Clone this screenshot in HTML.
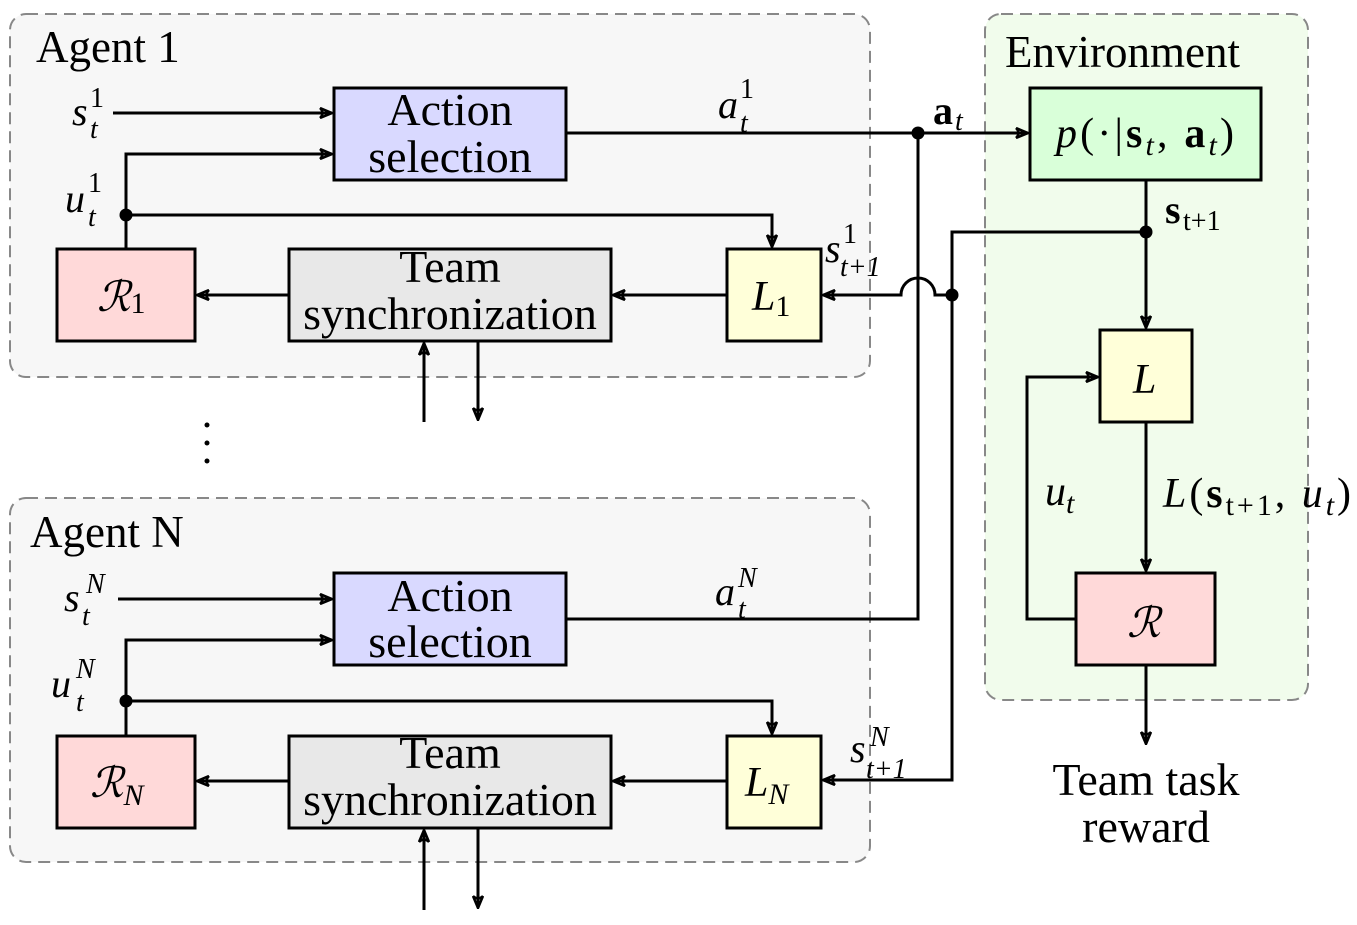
<!DOCTYPE html>
<html><head><meta charset="utf-8"><style>
body{margin:0;background:#fff}
svg text{font-family:"Liberation Serif",serif;fill:#000}
.i{font-style:italic}
</style></head><body>
<svg width="1357" height="920" viewBox="0 0 1357 920" xmlns="http://www.w3.org/2000/svg">
<defs><marker id="a" markerWidth="14" markerHeight="12" refX="13" refY="6" orient="auto" markerUnits="userSpaceOnUse"><path d="M1,1 Q6,6 1,11 M1,1 L13,6 L1,11" fill="none" stroke="#000" stroke-width="2.5"/></marker></defs>
<g stroke="#888" stroke-width="2" stroke-dasharray="12,7">
<rect x="10" y="14" width="860" height="363" rx="16" fill="#f7f7f7"/>
<rect x="10" y="498" width="860" height="364" rx="16" fill="#f7f7f7"/>
<rect x="985" y="14" width="323" height="686" rx="16" fill="#f1fcec"/>
</g>
<g stroke="#000" stroke-width="3">
<rect x="334" y="88" width="232" height="92" fill="#d9d9ff"/>
<rect x="57" y="249" width="138" height="92" fill="#ffd9d9"/>
<rect x="289" y="249" width="322" height="92" fill="#e8e8e8"/>
<rect x="727" y="249" width="94" height="92" fill="#ffffd9"/>
<rect x="334" y="573" width="232" height="92" fill="#d9d9ff"/>
<rect x="57" y="736" width="138" height="92" fill="#ffd9d9"/>
<rect x="289" y="736" width="322" height="92" fill="#e8e8e8"/>
<rect x="727" y="736" width="94" height="92" fill="#ffffd9"/>
<rect x="1030" y="88" width="231" height="92" fill="#d9ffd9"/>
<rect x="1100" y="330" width="92" height="92" fill="#ffffd9"/>
<rect x="1076" y="573" width="139" height="92" fill="#ffd9d9"/>
</g>
<g stroke="#000" stroke-width="3" fill="none">
<path d="M113,113H332" marker-end="url(#a)"/>
<path d="M126,249V154H332" marker-end="url(#a)"/>
<path d="M126,215H772V247" marker-end="url(#a)"/>
<path d="M289,295H197" marker-end="url(#a)"/>
<path d="M727,295H613" marker-end="url(#a)"/>
<path d="M424,422V343" marker-end="url(#a)"/>
<path d="M478,341V420" marker-end="url(#a)"/>
<path d="M118,599H332" marker-end="url(#a)"/>
<path d="M126,736V640H332" marker-end="url(#a)"/>
<path d="M126,701H772V734" marker-end="url(#a)"/>
<path d="M289,781H197" marker-end="url(#a)"/>
<path d="M727,781H613" marker-end="url(#a)"/>
<path d="M424,910V830" marker-end="url(#a)"/>
<path d="M478,828V908" marker-end="url(#a)"/>
<path d="M566,133H1028" marker-end="url(#a)"/>
<path d="M918,133V619H566"/>
<path d="M1146,180V328" marker-end="url(#a)"/>
<path d="M1146,232H952V780H823" marker-end="url(#a)"/>
<path d="M952,295H935A17,17 0 0 0 901,295H823" marker-end="url(#a)"/>
<path d="M1146,422V571" marker-end="url(#a)"/>
<path d="M1146,665V744" marker-end="url(#a)"/>
<path d="M1076,619H1027V377H1098" marker-end="url(#a)"/>
</g>
<g fill="#000"><circle cx="126" cy="215" r="6.5"/><circle cx="126" cy="701" r="6.5"/><circle cx="918" cy="133" r="6.5"/><circle cx="1146" cy="232" r="6.5"/><circle cx="952" cy="295" r="6.5"/>
<circle cx="207" cy="425" r="2.5"/><circle cx="207" cy="443" r="2.5"/><circle cx="207" cy="461" r="2.5"/></g>
<g font-size="46" text-anchor="middle">
<text x="450" y="125">Action</text><text x="450" y="172">selection</text>
<text x="450" y="282">Team</text><text x="450" y="329">synchronization</text>
<text x="450" y="611">Action</text><text x="450" y="657">selection</text>
<text x="450" y="768">Team</text><text x="450" y="815">synchronization</text>
<text x="1146" y="795">Team task</text><text x="1146" y="842">reward</text>
</g>
<g font-size="45">
<text x="36" y="62">Agent 1</text><text x="30" y="547">Agent N</text><text x="1005" y="67">Environment</text>
</g>
<g font-size="42" class="i">
<text x="97" y="311">ℛ<tspan font-size="30" font-style="normal" dy="2">1</tspan></text>
<text x="90" y="797">ℛ<tspan font-size="30" dy="8">N</tspan></text>
<text x="752" y="310">L<tspan font-size="30" font-style="normal" dy="6">1</tspan></text>
<text x="745" y="796">L<tspan font-size="30" dy="8">N</tspan></text>
<text x="1133" y="393">L</text>
<text x="1127" y="637">ℛ</text>
<text x="1056" y="147" textLength="178">p<tspan font-style="normal">(·|</tspan><tspan font-weight="bold" font-style="normal">s</tspan><tspan font-size="30" dy="8">t</tspan><tspan dy="-8" font-style="normal">, </tspan><tspan font-weight="bold" font-style="normal">a</tspan><tspan font-size="30" dy="8">t</tspan><tspan dy="-8" font-style="normal">)</tspan></text>
<text x="1163" y="507" textLength="188">L<tspan font-style="normal">(</tspan><tspan font-weight="bold" font-style="normal">s</tspan><tspan font-size="30" dy="8" font-style="normal">t+1</tspan><tspan dy="-8" font-style="normal">, </tspan>u<tspan font-size="30" dy="8">t</tspan><tspan dy="-8" font-style="normal">)</tspan></text>
<text x="1045" y="505">u<tspan font-size="30" dy="8">t</tspan></text>
</g>
<g font-size="40" class="i">
<text x="72" y="125">s</text><text x="90" y="107" font-size="28" font-style="normal">1</text><text x="90" y="138" font-size="28">t</text>
<text x="65" y="212">u</text><text x="88" y="192" font-size="28" font-style="normal">1</text><text x="88" y="226" font-size="28">t</text>
<text x="718" y="118">a</text><text x="740" y="98" font-size="28" font-style="normal">1</text><text x="740" y="132" font-size="28">t</text>
<text x="933" y="124" font-weight="bold" font-style="normal">a</text><text x="955" y="130" font-size="28">t</text>
<text x="1165" y="223" font-weight="bold" font-style="normal">s</text><text x="1183" y="230" font-size="28" font-style="normal">t+1</text>
<text x="825" y="262">s</text><text x="843" y="243" font-size="28" font-style="normal">1</text><text x="840" y="276" font-size="28">t+1</text>
<text x="64" y="611">s</text><text x="86" y="593" font-size="28">N</text><text x="82" y="625" font-size="28">t</text>
<text x="51" y="697">u</text><text x="76" y="678" font-size="28">N</text><text x="76" y="711" font-size="28">t</text>
<text x="715" y="605">a</text><text x="738" y="587" font-size="28">N</text><text x="738" y="618" font-size="28">t</text>
<text x="850" y="762">s</text><text x="870" y="746" font-size="28">N</text><text x="866" y="778" font-size="28">t+1</text>
</g>
</svg>
</body></html>
